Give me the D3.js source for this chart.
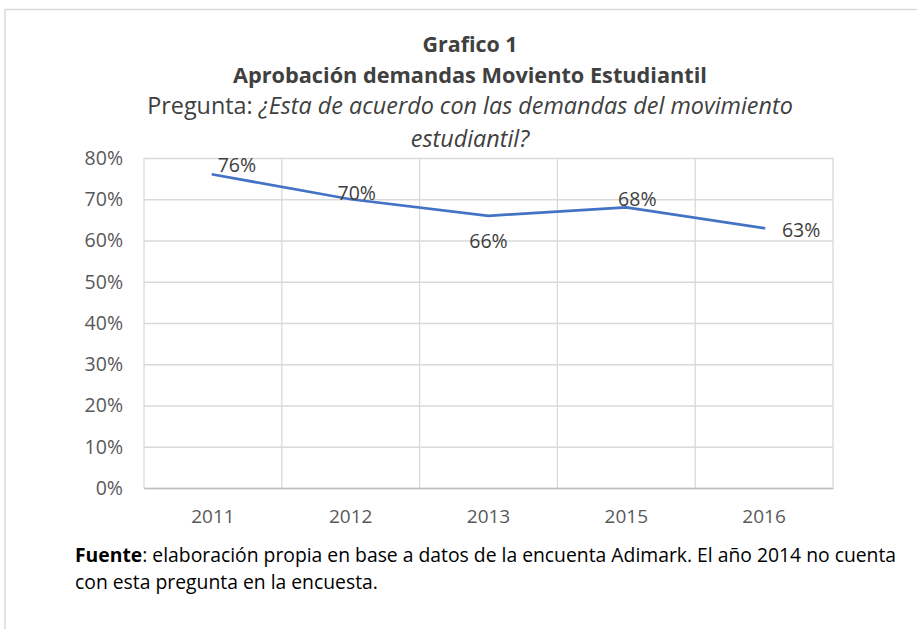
<!DOCTYPE html>
<html>
<head>
<meta charset="utf-8">
<script src="https://cdn.jsdelivr.net/npm/d3@7"></script>
<style>
  body { margin: 0; background: #fff; }
  text { font-family: "Open Sans", sans-serif; }
</style>
</head>
<body>
<div id="chart"></div>
<script>
const years = ["2011", "2012", "2013", "2015", "2016"];
const approval = [0.76, 0.70, 0.66, 0.68, 0.63];
const yTicks = [0, 0.1, 0.2, 0.3, 0.4, 0.5, 0.6, 0.7, 0.8];

// label offsets relative to each point (dx, dy of the text centre)
const labelOffsets = [[24, -9], [6, -6], [0, 25], [11, -8], [37, 2]];

const W = 917, H = 629;
const margin = { top: 158, right: 84, bottom: 141, left: 144 };

const svg = d3.select("#chart")
    .append("svg")
    .attr("width", W)
    .attr("height", H);

// shrink/grow a text's font so that it spans the given width
function fitWidth(sel, target) {
    const size = parseFloat(sel.style("font-size"));
    const w = sel.node().getComputedTextLength();
    sel.style("font-size", (size * target / w).toFixed(2) + "px");
}

// outer frame
svg.append("path")
    .attr("d", `M5,${H} L5,9.5 L${W},9.5`)
    .attr("fill", "none")
    .attr("stroke", "#d9d9d9")
    .attr("stroke-width", 1.5);

const x = d3.scaleBand()
    .domain(years)
    .range([margin.left, W - margin.right]);

const y = d3.scaleLinear()
    .domain([0, 0.8])
    .range([H - margin.bottom, margin.top]);

// horizontal grid
svg.append("g")
    .attr("transform", `translate(${margin.left},0)`)
    .call(d3.axisLeft(y).tickValues(yTicks).tickSize(-(W - margin.right - margin.left)).tickFormat(""))
    .call(g => g.select(".domain").remove())
    .call(g => g.selectAll("line").attr("stroke", "#d9d9d9").attr("stroke-width", 1.3));

// vertical grid at band edges
const edges = years.map(d => x(d)).concat([x.range()[1]]);
svg.append("g")
    .selectAll("line")
    .data(edges)
    .enter().append("line")
    .attr("x1", d => d).attr("x2", d => d)
    .attr("y1", y(0.8)).attr("y2", y(0))
    .attr("stroke", "#d9d9d9")
    .attr("stroke-width", 1.3);

// y tick labels
svg.append("g")
    .attr("transform", `translate(${margin.left},0)`)
    .call(d3.axisLeft(y).tickValues(yTicks).tickSize(0).tickPadding(21).tickFormat(d3.format(".0%")))
    .call(g => g.select(".domain").remove())
    .call(g => g.selectAll("text").attr("fill", "#595959").style("font-size", "19.5px").style("font-family", "Open Sans"));

// x axis
svg.append("g")
    .attr("transform", `translate(0,${y(0)})`)
    .call(d3.axisBottom(x).tickSize(0).tickPadding(22))
    .call(g => g.select(".domain").attr("stroke", "#bfbfbf").attr("stroke-width", 1.5))
    .call(g => g.selectAll("text").attr("fill", "#595959").style("font-size", "19px").style("font-family", "Open Sans"));

// line
const line = d3.line()
    .x((d, i) => x(years[i]) + x.bandwidth() / 2)
    .y(d => y(d));

svg.append("path")
    .datum(approval)
    .attr("d", line)
    .attr("fill", "none")
    .attr("stroke", "#4472c4")
    .attr("stroke-width", 2.75)
    .attr("stroke-linecap", "round");

// data labels
svg.selectAll(".lbl")
    .data(approval)
    .enter().append("text")
    .attr("class", "lbl")
    .attr("x", (d, i) => x(years[i]) + x.bandwidth() / 2 + labelOffsets[i][0])
    .attr("y", (d, i) => y(d) + labelOffsets[i][1])
    .attr("dy", "0.35em")
    .attr("text-anchor", "middle")
    .attr("fill", "#404040")
    .style("font-size", "19.5px")
    .text(d => d3.format(".0%")(d));

// titles
const cx = 470;
const t1 = svg.append("text")
    .attr("x", cx).attr("y", 52)
    .attr("text-anchor", "middle")
    .attr("fill", "#404040")
    .style("font-size", "20px").style("font-weight", "bold")
    .text("Grafico 1");
fitWidth(t1, 95);

const t2 = svg.append("text")
    .attr("x", cx).attr("y", 83)
    .attr("text-anchor", "middle")
    .attr("fill", "#404040")
    .style("font-size", "20px").style("font-weight", "bold")
    .text("Aprobación demandas Moviento Estudiantil");
fitWidth(t2, 474);

const q = svg.append("text")
    .attr("x", cx).attr("y", 114)
    .attr("text-anchor", "middle")
    .attr("fill", "#404040")
    .style("font-size", "20px");
q.append("tspan").text("Pregunta: ");
q.append("tspan").style("font-style", "italic").text("¿Esta de acuerdo con las demandas del movimiento");
fitWidth(q, 646);

svg.append("text")
    .attr("x", cx).attr("y", 147)
    .attr("text-anchor", "middle")
    .attr("fill", "#404040")
    .style("font-size", q.style("font-size")).style("font-style", "italic")
    .text("estudiantil?");

// footnote
const f1 = svg.append("text")
    .attr("x", 75).attr("y", 562)
    .attr("fill", "#000")
    .style("font-size", "18px");
f1.append("tspan").style("font-weight", "bold").text("Fuente");
f1.append("tspan").text(": elaboración propia en base a datos de la encuenta Adimark. El año 2014 no cuenta");
fitWidth(f1, 821);

svg.append("text")
    .attr("x", 75).attr("y", 589)
    .attr("fill", "#000")
    .style("font-size", f1.style("font-size"))
    .text("con esta pregunta en la encuesta.");
</script>
</body>
</html>
